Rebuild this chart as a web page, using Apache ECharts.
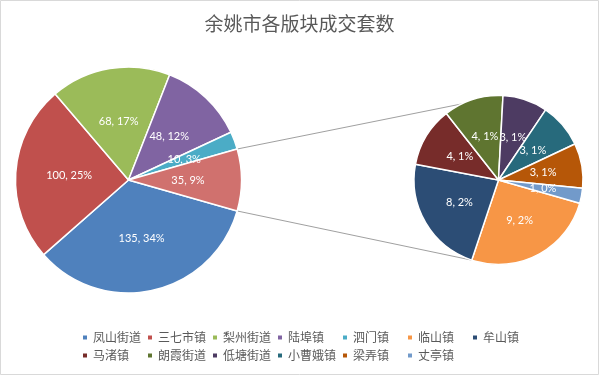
<!DOCTYPE html>
<html>
<head>
<meta charset="utf-8">
<script src="https://cdn.jsdelivr.net/npm/echarts@6/dist/echarts.min.js"></script>
<style>
html,body{margin:0;padding:0;background:#fff;}
#c{width:599px;height:375px;}
</style>
</head>
<body>
<div id="c"></div>
<script>
// ---- data ----
var chartTitle = '余姚市各版块成交套数';
var mainNames = ['凤山街道', '三七市镇', '梨州街道', '陆埠镇', '泗门镇'];
var mainValues = [135, 100, 68, 48, 10];
var mainColors = ['#4F81BD', '#C0504D', '#9BBB59', '#8064A2', '#4BACC6'];
var otherName = '其他';
var otherColor = '#D0716E';
var subNames = ['临山镇', '牟山镇', '马渚镇', '朗霞街道', '低塘街道', '小曹娥镇', '梁弄镇', '丈亭镇'];
var subValues = [9, 8, 4, 4, 3, 3, 3, 1];
var subColors = ['#F79646', '#2C4D75', '#772C2A', '#5F7530', '#4D3B62', '#276A7C', '#B65708', '#729ACA'];

// ---- derived ----
var otherValue = subValues.reduce(function (a, b) { return a + b; }, 0);
var total = mainValues.reduce(function (a, b) { return a + b; }, 0) + otherValue;
var startAngle = -(otherValue / total * 360) / 2;

var mainCenter = [128.5, 180], mainR = 113;
var subCenter = [498.5, 180], subR = 84.5;

function fmt(p) {
  return p.value + ', ' + Math.round(p.value / total * 100) + '%';
}

var mainData = mainNames.map(function (n, i) {
  return { name: n, value: mainValues[i], itemStyle: { color: mainColors[i] } };
});
mainData.push({ name: otherName, value: otherValue, itemStyle: { color: otherColor } });
var subData = subNames.map(function (n, i) {
  return { name: n, value: subValues[i], itemStyle: { color: subColors[i] } };
});

function pt(center, r, deg) {
  var a = deg * Math.PI / 180;
  return [center[0] + r * Math.cos(a), center[1] - r * Math.sin(a)];
}
// connector endpoints
var otherDeg = otherValue / total * 360;
var mUp = pt(mainCenter, mainR, startAngle + otherDeg);
var mDown = pt(mainCenter, mainR, startAngle);
var cumUp = subValues.slice(0, 4).reduce(function (a, b) { return a + b; }, 0);
var cumDown = subValues[0];
var sUp = pt(subCenter, subR, startAngle - cumUp / otherValue * 360);
var sDown = pt(subCenter, subR, startAngle - cumDown / otherValue * 360);

var labelStyle = {
  show: true, position: 'inside', formatter: fmt,
  color: '#fff', fontSize: 11, fontFamily: 'Lato, "Liberation Sans", sans-serif'
};

var chart = echarts.init(document.getElementById('c'), null, { renderer: 'canvas' });
chart.setOption({
  animation: false,
  backgroundColor: '#fff',
  title: {
    text: chartTitle, left: 'center', top: 9,
    textStyle: { fontSize: 19, fontWeight: 'normal', color: '#595959', fontFamily: '"Noto Sans CJK SC", sans-serif' }
  },
  legend: {
    left: 81, top: 330, width: 470, padding: 0,
    itemWidth: 6, itemHeight: 6, itemGap: 3, icon: 'rect',
    data: mainNames.concat(subNames),
    textStyle: { fontSize: 12, color: '#595959', width: 50, lineHeight: 15, fontFamily: '"Noto Sans CJK SC", sans-serif' },
    selectedMode: false
  },
  graphic: [
    { type: 'rect', shape: { x: 0.5, y: 0.5, width: 598, height: 374 }, style: { fill: 'none', stroke: '#d9d9d9', lineWidth: 1 }, z: 100 },
    { type: 'line', shape: { x1: mUp[0], y1: mUp[1], x2: sUp[0], y2: sUp[1] }, style: { stroke: '#a0a0a0', lineWidth: 1 }, z: -1 },
    { type: 'line', shape: { x1: mDown[0], y1: mDown[1], x2: sDown[0], y2: sDown[1] }, style: { stroke: '#a0a0a0', lineWidth: 1 }, z: -1 }
  ],
  series: [
    {
      type: 'pie', center: mainCenter, radius: mainR, startAngle: startAngle, clockwise: true,
      avoidLabelOverlap: false, minAngle: 0, data: mainData, label: labelStyle,
      labelLine: { show: false }, emphasis: { disabled: true },
      itemStyle: { borderColor: '#fff', borderWidth: 1.5 }
    },
    {
      type: 'pie', center: subCenter, radius: subR, startAngle: startAngle, clockwise: true,
      avoidLabelOverlap: false, minAngle: 0, data: subData, label: labelStyle,
      labelLine: { show: false }, emphasis: { disabled: true },
      itemStyle: { borderColor: '#fff', borderWidth: 1.5 }
    }
  ]
});
</script>
</body>
</html>
